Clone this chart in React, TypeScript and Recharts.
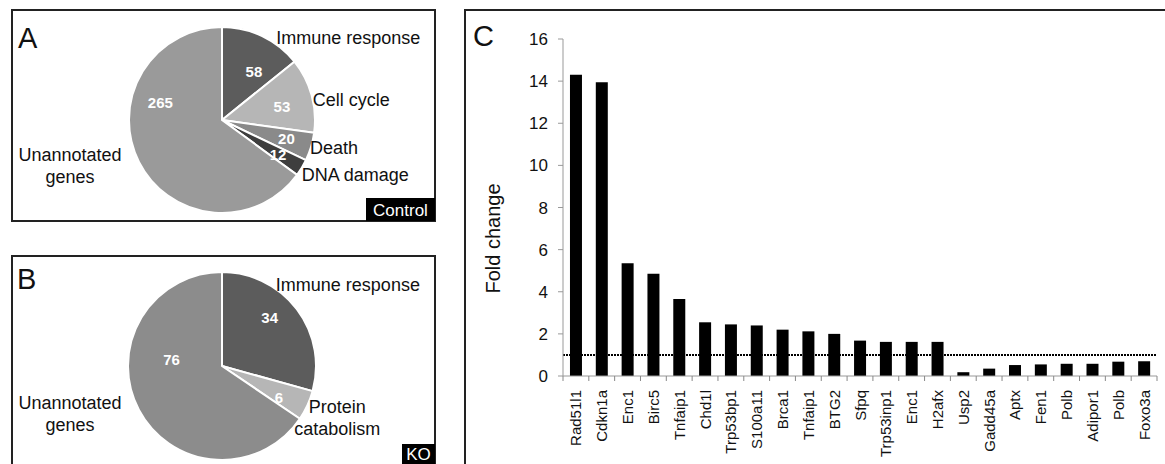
import { PieChart, Pie, Cell, BarChart, Bar, XAxis, YAxis, ReferenceLine, Label } from "recharts"

// Panel A (control) gene categories
const controlNames = ["Immune response", "Cell cycle", "Death", "DNA damage", "Unannotated genes"]
const controlCounts = [58, 53, 20, 12, 265]

// Panel B (KO) gene categories
const koNames = ["Immune response", "Protein catabolism", "Unannotated genes"]
const koCounts = [34, 6, 76]

// Panel C fold changes
const genes = [
  "Rad51l1", "Cdkn1a", "Enc1", "Birc5", "Tnfaip1", "Chd1l", "Trp53bp1", "S100a11",
  "Brca1", "Tnfaip1", "BTG2", "Sfpq", "Trp53inp1", "Enc1", "H2afx", "Usp2",
  "Gadd45a", "Aptx", "Fen1", "Polb", "Adipor1", "Polb", "Foxo3a"
]
const foldChange = [
  14.3, 13.95, 5.35, 4.85, 3.65, 2.55, 2.45, 2.4,
  2.2, 2.12, 2.0, 1.68, 1.62, 1.62, 1.62, 0.18,
  0.35, 0.52, 0.55, 0.58, 0.58, 0.68, 0.7
]
const yTicks = [0, 2, 4, 6, 8, 10, 12, 14, 16]
const threshold = 1

const FONT = '"Liberation Sans", Arial, sans-serif'
const RADIAN = Math.PI / 180

const BAR_W = 700
const Y_AXIS_W = 98
const RIGHT_M = 8

const controlData = controlNames.map((name, i) => ({ name, value: controlCounts[i] }))
const koData = koNames.map((name, i) => ({ name, value: koCounts[i] }))
const barData = genes.map((gene, i) => ({ gene, fold: foldChange[i] }))

const controlColors = ["#5c5c5c", "#b6b6b6", "#8a8a8a", "#3e3e3e", "#9a9a9a"]
const koColors = ["#5c5c5c", "#b6b6b6", "#8c8c8c"]

type LabelStyle = {
  lines: Record<string, string[]>
  outside: Record<string, { dx: number; dy: number; anchor: string }>
  number: Record<string, { shift: number; r: number }>
}

const controlLabels: LabelStyle = {
  lines: { "Unannotated genes": ["Unannotated", "genes"] },
  outside: {
    "Immune response": { dx: 14, dy: 2, anchor: "start" },
    "Cell cycle": { dx: 1, dy: 5, anchor: "start" },
    "Death": { dx: -1, dy: 1, anchor: "start" },
    "DNA damage": { dx: 0, dy: 7, anchor: "start" },
    "Unannotated genes": { dx: -69, dy: -7, anchor: "middle" }
  },
  number: {
    "Immune response": { shift: 8, r: 0.62 },
    "Cell cycle": { shift: 3, r: 0.66 },
    "Death": { shift: -1, r: 0.72 },
    "DNA damage": { shift: 1, r: 0.71 },
    "Unannotated genes": { shift: 43, r: 0.69 }
  }
}

const koLabels: LabelStyle = {
  lines: {
    "Unannotated genes": ["Unannotated", "genes"],
    "Protein catabolism": ["Protein", "catabolism"]
  },
  outside: {
    "Immune response": { dx: -21, dy: -24, anchor: "start" },
    "Protein catabolism": { dx: 30, dy: 2, anchor: "middle" },
    "Unannotated genes": { dx: -69, dy: -7, anchor: "middle" }
  },
  number: {
    "Immune response": { shift: -8, r: 0.72 },
    "Protein catabolism": { shift: 4, r: 0.69 },
    "Unannotated genes": { shift: 35, r: 0.54 }
  }
}

const makePieLabel = (style: LabelStyle) => (props: any) => {
  const { cx, cy, midAngle, outerRadius, name, value } = props
  const edgeX = cx + outerRadius * Math.cos(-midAngle * RADIAN)
  const edgeY = cy + outerRadius * Math.sin(-midAngle * RADIAN)
  const out = style.outside[name]
  const lines = style.lines[name] || [name]
  const num = style.number[name]
  const numAngle = midAngle - num.shift
  const nx = cx + outerRadius * num.r * Math.cos(-numAngle * RADIAN)
  const ny = cy + outerRadius * num.r * Math.sin(-numAngle * RADIAN)
  return (
    <g>
      <text
        x={nx}
        y={ny}
        textAnchor="middle"
        dominantBaseline="central"
        fill="#fff"
        fontSize={15}
        fontWeight="bold"
        fontFamily={FONT}
      >
        {value}
      </text>
      {lines.map((line, i) => (
        <text
          key={i}
          x={edgeX + out.dx}
          y={edgeY + out.dy + i * 22}
          textAnchor={out.anchor as any}
          dominantBaseline="central"
          fill="#111"
          fontSize={18}
          fontFamily={FONT}
        >
          {line}
        </text>
      ))}
    </g>
  )
}

// category ticks sit between the bars, as in the original spreadsheet chart
const halfBand = (BAR_W - Y_AXIS_W - RIGHT_M) / genes.length / 2

const GeneTick = ({ x, y, payload, index }: any) => {
  const axisY = y - 14
  return (
    <g>
      <line x1={x - halfBand} x2={x - halfBand} y1={axisY} y2={axisY + 5} stroke="#888" />
      {index === genes.length - 1 && (
        <line x1={x + halfBand} x2={x + halfBand} y1={axisY} y2={axisY + 5} stroke="#888" />
      )}
      <text
        x={x}
        y={y}
        transform={`rotate(-90, ${x}, ${y})`}
        textAnchor="end"
        dominantBaseline="central"
        fill="#111"
        fontSize={15}
        fontFamily={FONT}
      >
        {payload.value}
      </text>
    </g>
  )
}

const FoldLabel = (props: any) => {
  const { x, y, height } = props.viewBox
  const lx = x + 28
  const ly = y + height / 2 + 31
  return (
    <text
      x={lx}
      y={ly}
      transform={`rotate(-90, ${lx}, ${ly})`}
      textAnchor="middle"
      dominantBaseline="central"
      fill="#111"
      fontSize={20}
      fontFamily={FONT}
    >
      Fold change
    </text>
  )
}

export default function App() {
  return (
    <div
      style={{
        position: "absolute",
        left: 0,
        top: 0,
        width: 1165,
        height: 464,
        overflow: "hidden",
        background: "#fff",
        fontFamily: FONT
      }}
    >
      <div style={{ position: "absolute", left: 12, top: 10 }}>
        <PieChart width={423} height={211}>
          <Pie
            data={controlData}
            dataKey="value"
            nameKey="name"
            cx={205}
            cy={105}
            outerRadius={93}
            startAngle={90}
            endAngle={-270}
            stroke="#fff"
            strokeWidth={2}
            label={makePieLabel(controlLabels)}
            labelLine={false}
            isAnimationActive={false}
          >
            {controlData.map((d, i) => (
              <Cell key={d.name} fill={controlColors[i]} />
            ))}
          </Pie>
        </PieChart>
      </div>

      <div style={{ position: "absolute", left: 12, top: 256 }}>
        <PieChart width={423} height={208}>
          <Pie
            data={koData}
            dataKey="value"
            nameKey="name"
            cx={205}
            cy={105}
            outerRadius={94}
            startAngle={90}
            endAngle={-270}
            stroke="#fff"
            strokeWidth={2}
            label={makePieLabel(koLabels)}
            labelLine={false}
            isAnimationActive={false}
          >
            {koData.map((d, i) => (
              <Cell key={d.name} fill={koColors[i]} />
            ))}
          </Pie>
        </PieChart>
      </div>

      <div style={{ position: "absolute", left: 465, top: 10 }}>
        <BarChart
          width={BAR_W}
          height={454}
          data={barData}
          margin={{ top: 29, right: RIGHT_M, left: 0, bottom: 0 }}
          barCategoryGap="27%"
        >
          <XAxis
            dataKey="gene"
            interval={0}
            height={88}
            tickLine={false}
            tickSize={6}
            tickMargin={8}
            axisLine={{ stroke: "#999" }}
            tick={<GeneTick />}
          />
          <YAxis
            width={Y_AXIS_W}
            domain={[0, 16]}
            ticks={yTicks}
            tickSize={5}
            tickMargin={10}
            axisLine={{ stroke: "#999" }}
            tickLine={{ stroke: "#999" }}
            tick={{ fill: "#111", fontSize: 17, fontFamily: FONT }}
          >
            <Label content={<FoldLabel />} />
          </YAxis>
          <Bar dataKey="fold" fill="#000" isAnimationActive={false} />
          <ReferenceLine y={threshold} stroke="#000" strokeWidth={2} strokeDasharray="2 1" />
        </BarChart>
      </div>

      <svg
        width={1165}
        height={464}
        style={{ position: "absolute", left: 0, top: 0, pointerEvents: "none" }}
      >
        <rect x={12} y={10} width={423} height={211} fill="none" stroke="#222" strokeWidth={2} />
        <rect x={12} y={256} width={423} height={212} fill="none" stroke="#222" strokeWidth={2} />
        <rect x={465} y={10} width={720} height={470} fill="none" stroke="#222" strokeWidth={2} />
        <text x={18} y={48} fontSize={29} fontFamily={FONT} fill="#111">A</text>
        <text x={17} y={289} fontSize={29} fontFamily={FONT} fill="#111">B</text>
        <text x={473} y={46} fontSize={29} fontFamily={FONT} fill="#111">C</text>
        <rect x={366} y={198} width={69} height={23} fill="#000" />
        <text x={400.5} y={216} textAnchor="middle" fontSize={17} fontFamily={FONT} fill="#fff">Control</text>
        <rect x={402} y={444} width={33} height={22} fill="#000" />
        <text x={418.5} y={460} textAnchor="middle" fontSize={17} fontFamily={FONT} fill="#fff">KO</text>
      </svg>
    </div>
  )
}
